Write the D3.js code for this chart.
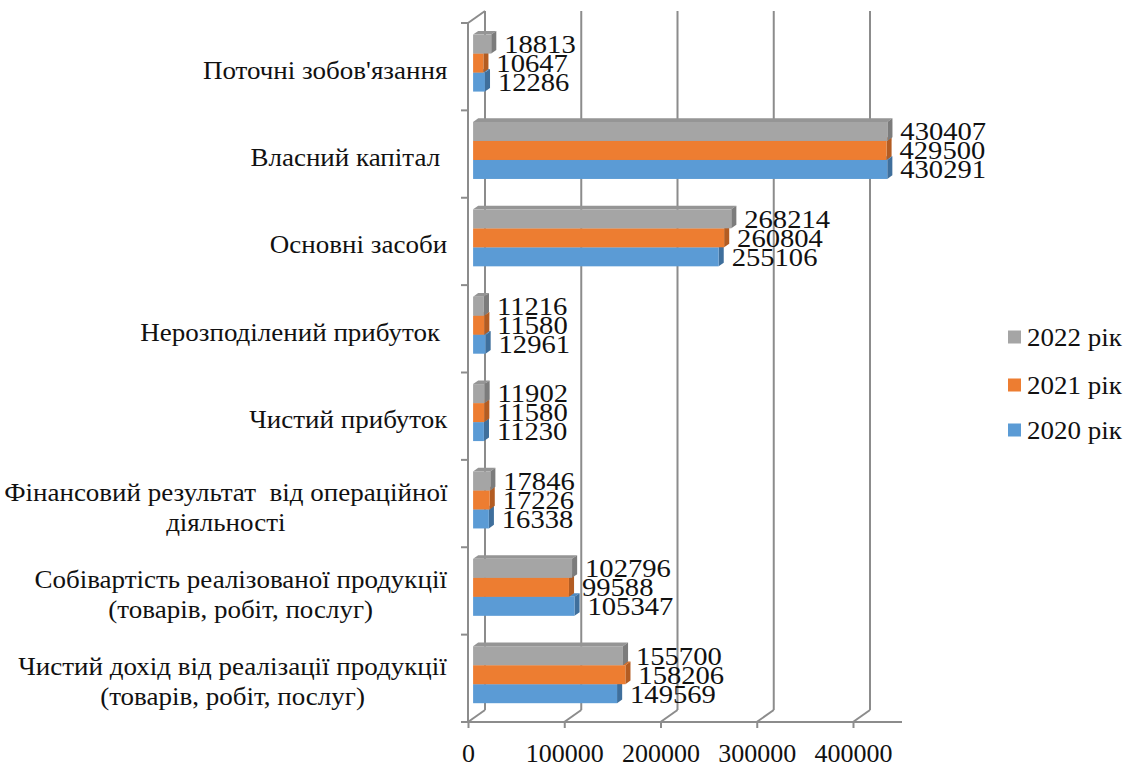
<!DOCTYPE html>
<html>
<head>
<meta charset="utf-8">
<script src="https://cdn.jsdelivr.net/npm/d3@7"></script>
<style>
  html, body { margin: 0; padding: 0; background: #fff; }
  #chart { position: relative; width: 1126px; height: 767px; }
  svg { display: block; }
  .cat { position: absolute; font-family: "Liberation Serif"; font-size: 25px; line-height: 30px;
         color: #111; text-align: center; white-space: pre;
         transform-origin: right center; transform: translateY(-50%) scaleX(1.08); }
</style>
</head>
<body>
<div id="chart"></div>
<script>
// categories, top to bottom
const categories = [
  ["Поточні зобов'язання"],
  ["Власний капітал "],
  ["Основні засоби"],
  ["Нерозподілений прибуток "],
  ["Чистий прибуток"],
  ["Фінансовий результат  від операційної", "діяльності"],
  ["Собівартість реалізованої продукції", "(товарів, робіт, послуг)"],
  ["Чистий дохід від реалізації продукції", "(товарів, робіт, послуг)"]
];
const seriesNames = ["2022 рік", "2021 рік", "2020 рік"];
const values2022 = [18813, 430407, 268214, 11216, 11902, 17846, 102796, 155700];
const values2021 = [10647, 429500, 260804, 11580, 11580, 17226, 99588, 158206];
const values2020 = [12286, 430291, 255106, 12961, 11230, 16338, 105347, 149569];
const xTicks = [0, 100000, 200000, 300000, 400000];

const seriesValues = [values2022, values2021, values2020];
const colors = {
  "2022 рік": { front: "#a5a5a5", top: "#959595", side: "#7c7c7c" },
  "2021 рік": { front: "#ed7d31", top: "#d46d28", side: "#b35c22" },
  "2020 рік": { front: "#5b9bd5", top: "#4f8bc2", side: "#3f6f9c" }
};
const FONT = "Liberation Serif";

const W = 1126, H = 767;
const DX = 17, DY = -12;          // full depth of the 3D walls
const d0 = 0.3, d1 = 0.6;          // bar depth range

const chart = d3.select("#chart");
const svg = chart.append("svg")
  .attr("width", W).attr("height", H);

const x = d3.scaleLinear().domain([0, 400000]).range([468, 853]);
const y = d3.scaleBand().domain(d3.range(categories.length)).range([23, 722]).padding(0);
const ys = d3.scaleBand().domain(seriesNames).range([0, y.bandwidth()]).paddingInner(0).paddingOuter(0.8);

const gridColor = "#8c8c8c";
const grid = svg.append("g").attr("stroke", gridColor).attr("stroke-width", 2).attr("fill", "none");

// back wall gridlines + floor diagonals
xTicks.forEach(t => {
  grid.append("line")
    .attr("x1", x(t) + DX).attr("x2", x(t) + DX)
    .attr("y1", y.range()[0] + DY).attr("y2", y.range()[1] + DY);
  grid.append("line")
    .attr("x1", x(t)).attr("y1", y.range()[1])
    .attr("x2", x(t) + DX).attr("y2", y.range()[1] + DY);
});
// left wall front edge and top edge
grid.append("line").attr("x1", x(0)).attr("x2", x(0)).attr("y1", y.range()[0]).attr("y2", y.range()[1]);
grid.append("line").attr("x1", x(0)).attr("y1", y.range()[0]).attr("x2", x(0) + DX).attr("y2", y.range()[0] + DY);
// category ticks
d3.range(categories.length + 1).forEach(i => {
  const yy = y.range()[0] + i * y.step();
  grid.append("line").attr("x1", x(0) - 7).attr("x2", x(0)).attr("y1", yy).attr("y2", yy);
});
// front floor line
grid.append("line").attr("x1", x(0) - 7).attr("x2", 902).attr("y1", y.range()[1]).attr("y2", y.range()[1]);

// x axis
const xAxis = svg.append("g")
  .attr("transform", `translate(0,${y.range()[1]})`)
  .call(d3.axisBottom(x).tickValues(xTicks).tickSize(6).tickPadding(16).tickFormat(d3.format("d")));
xAxis.select(".domain").remove();
xAxis.selectAll(".tick line").attr("stroke", gridColor).attr("stroke-width", 2);
xAxis.selectAll(".tick text").attr("fill", "#111")
  .attr("font-family", FONT).attr("font-size", 25)
  .attr("transform", "scale(1.04,1)");

// bars (bottom series first so upper ones cover their hidden faces)
const bars = svg.append("g");
const ox0 = d0 * DX, oy0 = d0 * DY;
const ddx = (d1 - d0) * DX, ddy = (d1 - d0) * DY;
categories.forEach((cat, ci) => {
  for (let si = seriesNames.length - 1; si >= 0; si--) {
    const name = seriesNames[si];
    const v = seriesValues[si][ci];
    const c = colors[name];
    const xl = x(0) + ox0, xr = x(v) + ox0;
    const yt = y(ci) + ys(name) + oy0, yb = yt + ys.bandwidth();
    bars.append("polygon")
      .attr("points", [[xl, yt], [xr, yt], [xr + ddx, yt + ddy], [xl + ddx, yt + ddy]].join(" "))
      .attr("fill", c.top);
    bars.append("polygon")
      .attr("points", [[xr, yt], [xr + ddx, yt + ddy], [xr + ddx, yb + ddy], [xr, yb]].join(" "))
      .attr("fill", c.side);
    bars.append("rect")
      .attr("x", xl).attr("y", yt).attr("width", xr - xl).attr("height", yb - yt)
      .attr("fill", c.front);
  }
});

// value labels
const labels = svg.append("g");
categories.forEach((cat, ci) => {
  seriesNames.forEach((name, si) => {
    const v = seriesValues[si][ci];
    const yc = y(ci) + ys(name) + oy0 + ys.bandwidth() / 2;
    labels.append("text")
      .attr("transform", `translate(${x(v) + ox0 + 13},${yc}) scale(1.1,1)`)
      .attr("dy", "0.34em")
      .attr("font-family", FONT).attr("font-size", 26).attr("fill", "#111")
      .text(v);
  });
});

// category labels (HTML so multi-line labels center on each other)
const rightEdge = 447;
categories.forEach((lines, ci) => {
  chart.append("div")
    .attr("class", "cat")
    .style("right", (W - rightEdge) + "px")
    .style("top", (y(ci) + y.bandwidth() / 2 + 4) + "px")
    .text(lines.join("\n"));
});

// legend
const legend = svg.append("g");
const legendY = [337, 385, 430];
seriesNames.forEach((name, i) => {
  legend.append("rect")
    .attr("x", 1008).attr("y", legendY[i] - 6.5).attr("width", 13).attr("height", 13)
    .attr("fill", colors[name].front);
  legend.append("text")
    .attr("transform", `translate(1027,${legendY[i]}) scale(1.08,1)`)
    .attr("dy", "0.34em")
    .attr("font-family", FONT).attr("font-size", 25).attr("fill", "#111")
    .text(name);
});
</script>
</body>
</html>
